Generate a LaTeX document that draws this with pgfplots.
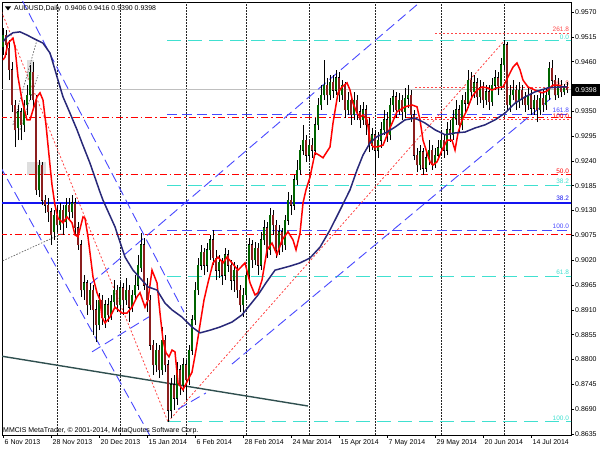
\documentclass[border=0pt]{standalone}
\usepackage{pgfplots}
\pgfplotsset{compat=1.18}
\usepackage{pgfplotstable}
\usepackage{fontspec}
\setmainfont{Liberation Sans}
\definecolor{fibred}{RGB}{255,0,0}
\definecolor{dotred}{RGB}{255,70,70}
\definecolor{fibblue}{RGB}{72,72,255}
\definecolor{solidblue}{RGB}{20,20,240}
\definecolor{fibcyan}{RGB}{64,224,208}
\definecolor{navyma}{RGB}{40,40,120}
\definecolor{slate}{RGB}{47,79,79}
\definecolor{bullc}{RGB}{0,100,0}
\definecolor{bearc}{RGB}{140,30,30}

\pgfplotstableread{
i O H L C
0 0.9492 0.9535 0.9475 0.9519
1 0.9519 0.9530 0.9475 0.9497
2 0.9490 0.9508 0.9419 0.9442
3 0.9442 0.9459 0.9349 0.9364
4 0.9364 0.9375 0.9271 0.9309
5 0.9313 0.9364 0.9286 0.9349
6 0.9349 0.9357 0.9286 0.9320
7 0.9320 0.9375 0.9304 0.9364
8 0.9364 0.9408 0.9342 0.9386
9 0.9386 0.9453 0.9375 0.9437
10 0.9437 0.9459 0.9357 0.9375
11 0.9375 0.9386 0.9165 0.9176
12 0.9176 0.9242 0.9160 0.9231
13 0.9231 0.9238 0.9142 0.9153
14 0.9153 0.9165 0.9125 0.9142
15 0.9142 0.9158 0.9105 0.9127
16 0.9127 0.9136 0.9054 0.9076
17 0.9083 0.9131 0.9065 0.9120
18 0.9120 0.9142 0.9083 0.9098
19 0.9098 0.9147 0.9087 0.9131
20 0.9131 0.9142 0.9076 0.9105
21 0.9105 0.9158 0.9092 0.9142
22 0.9142 0.9158 0.9109 0.9127
23 0.9127 0.9165 0.9113 0.9147
24 0.9147 0.9158 0.9076 0.9092
25 0.9092 0.9105 0.9043 0.9054
26 0.9054 0.9065 0.8939 0.8954
27 0.8954 0.8987 0.8932 0.8970
28 0.8970 0.8976 0.8899 0.8921
29 0.8921 0.8970 0.8910 0.8954
30 0.8954 0.8965 0.8854 0.8910
31 0.8910 0.8932 0.8839 0.8877
32 0.8877 0.8948 0.8865 0.8932
33 0.8932 0.8943 0.8877 0.8892
34 0.8892 0.8932 0.8870 0.8921
35 0.8921 0.8937 0.8883 0.8899
36 0.8899 0.8943 0.8888 0.8928
37 0.8928 0.8976 0.8914 0.8954
38 0.8954 0.8965 0.8905 0.8921
39 0.8921 0.8972 0.8910 0.8959
40 0.8959 0.8970 0.8899 0.8932
41 0.8932 0.8981 0.8921 0.8954
42 0.8954 0.8965 0.8883 0.8916
43 0.8916 0.8954 0.8905 0.8943
44 0.8943 0.8987 0.8932 0.8965
45 0.8965 0.9032 0.8954 0.9009
46 0.9003 0.9080 0.8994 0.9054
47 0.9054 0.9070 0.8954 0.8965
48 0.8965 0.8981 0.8905 0.8932
49 0.8932 0.8943 0.8821 0.8832
50 0.8832 0.8843 0.8766 0.8788
51 0.8788 0.8837 0.8772 0.8821
52 0.8821 0.8832 0.8759 0.8777
53 0.8777 0.8872 0.8766 0.8843
54 0.8843 0.8854 0.8772 0.8788
55 0.8788 0.8799 0.8662 0.8688
56 0.8688 0.8759 0.8670 0.8744
57 0.8744 0.8766 0.8688 0.8714
58 0.8714 0.8795 0.8699 0.8777
59 0.8777 0.8788 0.8721 0.8744
60 0.8744 0.8803 0.8728 0.8788
61 0.8788 0.8799 0.8710 0.8755
62 0.8755 0.8832 0.8744 0.8821
63 0.8821 0.8899 0.8810 0.8888
64 0.8888 0.8972 0.8877 0.8954
65 0.8954 0.9025 0.8943 0.9009
66 0.9009 0.9054 0.8998 0.9038
67 0.9038 0.9047 0.8987 0.9009
68 0.9009 0.9058 0.8994 0.9043
69 0.9043 0.9076 0.9021 0.9065
70 0.9065 0.9087 0.9009 0.9025
71 0.9025 0.9043 0.8976 0.8998
72 0.8998 0.9032 0.8981 0.9016
73 0.9016 0.9025 0.8965 0.8987
74 0.8987 0.9047 0.8976 0.9032
75 0.9032 0.9043 0.8994 0.9009
76 0.9009 0.9021 0.8954 0.8976
77 0.8976 0.9016 0.8950 0.8998
78 0.8998 0.9009 0.8937 0.8954
79 0.8954 0.8965 0.8905 0.8921
80 0.8921 0.8959 0.8894 0.8943
81 0.8943 0.9003 0.8932 0.8987
82 0.8987 0.9070 0.8976 0.9054
83 0.9054 0.9065 0.9003 0.9021
84 0.9021 0.9060 0.9009 0.9047
85 0.9047 0.9058 0.8987 0.9009
86 0.9009 0.9083 0.8998 0.9065
87 0.9065 0.9109 0.9054 0.9092
88 0.9092 0.9105 0.9025 0.9043
89 0.9043 0.9136 0.9032 0.9120
90 0.9120 0.9131 0.9076 0.9098
91 0.9098 0.9109 0.9025 0.9043
92 0.9043 0.9098 0.9032 0.9083
93 0.9083 0.9092 0.9038 0.9054
94 0.9054 0.9120 0.9043 0.9109
95 0.9109 0.9171 0.9098 0.9153
96 0.9153 0.9165 0.9120 0.9142
97 0.9142 0.9209 0.9131 0.9198
98 0.9198 0.9242 0.9187 0.9220
99 0.9220 0.9275 0.9209 0.9264
100 0.9264 0.9320 0.9253 0.9286
101 0.9286 0.9298 0.9238 0.9253
102 0.9253 0.9286 0.9242 0.9275
103 0.9275 0.9291 0.9247 0.9264
104 0.9264 0.9335 0.9253 0.9320
105 0.9320 0.9379 0.9309 0.9364
106 0.9364 0.9408 0.9353 0.9386
107 0.9386 0.9464 0.9375 0.9408
108 0.9408 0.9424 0.9364 0.9386
109 0.9386 0.9430 0.9375 0.9415
110 0.9415 0.9430 0.9379 0.9397
111 0.9397 0.9442 0.9386 0.9424
112 0.9424 0.9437 0.9371 0.9386
113 0.9386 0.9419 0.9375 0.9408
114 0.9408 0.9415 0.9335 0.9353
115 0.9353 0.9393 0.9342 0.9375
116 0.9375 0.9386 0.9320 0.9342
117 0.9342 0.9393 0.9331 0.9375
118 0.9375 0.9386 0.9331 0.9349
119 0.9349 0.9364 0.9313 0.9331
120 0.9331 0.9371 0.9320 0.9353
121 0.9353 0.9364 0.9298 0.9320
122 0.9320 0.9335 0.9260 0.9275
123 0.9275 0.9313 0.9264 0.9298
124 0.9298 0.9309 0.9204 0.9264
125 0.9264 0.9304 0.9247 0.9286
126 0.9286 0.9326 0.9269 0.9309
127 0.9309 0.9353 0.9298 0.9331
128 0.9331 0.9349 0.9282 0.9298
129 0.9298 0.9379 0.9286 0.9364
130 0.9364 0.9397 0.9349 0.9382
131 0.9382 0.9393 0.9335 0.9353
132 0.9353 0.9391 0.9342 0.9375
133 0.9375 0.9386 0.9331 0.9349
134 0.9349 0.9402 0.9335 0.9379
135 0.9379 0.9408 0.9357 0.9386
136 0.9386 0.9397 0.9326 0.9342
137 0.9342 0.9353 0.9242 0.9253
138 0.9253 0.9269 0.9216 0.9231
139 0.9231 0.9275 0.9220 0.9260
140 0.9260 0.9269 0.9209 0.9224
141 0.9224 0.9264 0.9216 0.9247
142 0.9247 0.9286 0.9231 0.9264
143 0.9264 0.9275 0.9220 0.9231
144 0.9231 0.9269 0.9224 0.9253
145 0.9253 0.9286 0.9242 0.9269
146 0.9269 0.9309 0.9253 0.9286
147 0.9286 0.9298 0.9247 0.9264
148 0.9264 0.9326 0.9253 0.9309
149 0.9309 0.9331 0.9282 0.9298
150 0.9298 0.9353 0.9286 0.9335
151 0.9335 0.9375 0.9320 0.9353
152 0.9353 0.9364 0.9304 0.9320
153 0.9320 0.9386 0.9309 0.9375
154 0.9375 0.9393 0.9349 0.9368
155 0.9368 0.9442 0.9357 0.9419
156 0.9419 0.9437 0.9375 0.9393
157 0.9393 0.9430 0.9379 0.9413
158 0.9413 0.9424 0.9364 0.9382
159 0.9382 0.9419 0.9368 0.9402
160 0.9402 0.9415 0.9357 0.9375
161 0.9375 0.9408 0.9364 0.9393
162 0.9393 0.9408 0.9353 0.9371
163 0.9371 0.9424 0.9362 0.9408
164 0.9408 0.9442 0.9397 0.9424
165 0.9424 0.9437 0.9386 0.9406
166 0.9406 0.9468 0.9397 0.9453
167 0.9453 0.9508 0.9442 0.9497
168 0.9497 0.9504 0.9353 0.9364
169 0.9364 0.9408 0.9349 0.9386
170 0.9386 0.9419 0.9375 0.9397
171 0.9397 0.9408 0.9353 0.9371
172 0.9371 0.9415 0.9357 0.9397
173 0.9397 0.9408 0.9364 0.9379
174 0.9379 0.9393 0.9349 0.9364
175 0.9364 0.9402 0.9353 0.9386
176 0.9386 0.9397 0.9342 0.9357
177 0.9357 0.9386 0.9342 0.9375
178 0.9375 0.9386 0.9326 0.9353
179 0.9353 0.9393 0.9342 0.9379
180 0.9379 0.9397 0.9349 0.9364
181 0.9364 0.9402 0.9353 0.9386
182 0.9386 0.9459 0.9375 0.9446
183 0.9446 0.9464 0.9402 0.9419
184 0.9419 0.9430 0.9375 0.9386
185 0.9386 0.9424 0.9379 0.9408
186 0.9408 0.9419 0.9382 0.9393
187 0.9393 0.9410 0.9386 0.9402
188 0.9406 0.9416 0.9390 0.9398
}\candles

\newcommand{\tinyf}{\fontsize{7}{8}\selectfont}
\newcommand{\fibf}{\fontsize{6.5}{7}\selectfont}
\tikzset{dashdotred/.style={color=fibred, line width=1bp, dash pattern=on 7bp off 3bp on 1.5bp off 3bp}}

\begin{document}
\begin{tikzpicture}[x=1bp,y=1bp]
\path[use as bounding box] (0,0) rectangle (600,450);
\begin{axis}[
  at={(2bp,15bp)}, anchor=south west,
  scale only axis, width=569bp, height=433bp,
  xmin=-0.3333, xmax=189.3333, ymin=0.86328, ymax=0.95922,
  axis line style={line width=0.8bp, black},
  tick align=outside, xtick pos=bottom, ytick pos=right,
  major tick length=3bp,
  tick style={black, line width=0.6bp},
  xtick={0,16,32,48,64,80,96,112,128,144,160,176},
  xticklabels={6 Nov 2013, 28 Nov 2013, 20 Dec 2013, 15 Jan 2014, 6 Feb 2014, 28 Feb 2014, 24 Mar 2014, 15 Apr 2014, 7 May 2014, 29 May 2014, 20 Jun 2014, 14 Jul 2014},
  xticklabel style={anchor=north west, inner sep=0pt, font=\tinyf, xshift=1.5bp, yshift=-1bp},
  ytick={0.8635,0.8690,0.8745,0.8800,0.8855,0.8910,0.8965,0.9020,0.9075,0.9130,0.9185,0.9240,0.9295,0.9350,0.9405,0.9460,0.9515,0.9570},
  yticklabels={0.8635,0.8690,0.8745,0.8800,0.8855,0.8910,0.8965,0.9020,0.9075,0.9130,0.9185,0.9240,0.9295,0.9350,{},0.9460,0.9515,0.9570},
  yticklabel pos=right,
  yticklabel style={anchor=west, inner sep=0pt, font=\tinyf, xshift=1bp},
  extra x ticks={18,39,61,81,102,124,146,167},
  extra x tick labels={},
  extra x tick style={grid=major, major tick length=0pt, grid style={black!85, line width=0.5bp, dash pattern=on 1.5bp off 1.5bp}},
]
% gray boxes
\addplot[fill=black!13, draw=none, forget plot] coordinates {(8,0.9464) (10.33,0.9464) (10.33,0.9419) (8,0.9419)} -- cycle;
\addplot[fill=black!13, draw=none, forget plot] coordinates {(8,0.9238) (14.33,0.9238) (14.33,0.9209) (8,0.9209)} -- cycle;
% bid line
\addplot[color=black!25, line width=0.8bp] coordinates {(-1,0.9398) (190,0.9398)};
% red dash-dot fib
\addplot[dashdotred] coordinates {(-1,0.9337) (190,0.9337)};
\addplot[dashdotred] coordinates {(-1,0.9209) (190,0.9209)};
\addplot[dashdotred] coordinates {(-1,0.9078) (190,0.9078)};
% red dotted fib
\addplot[color=dotred, line width=0.8bp, dash pattern=on 2bp off 2bp] coordinates {(144,0.9523) (190,0.9523)};
\addplot[color=dotred, line width=0.8bp, dash pattern=on 2bp off 2bp] coordinates {(137.33,0.9404) (190,0.9404)};
\addplot[color=dotred, line width=0.8bp, dash pattern=on 2bp off 2bp] coordinates {(137.33,0.9331) (190,0.9331)};
% cyan fib
\addplot[color=fibcyan, line width=0.9bp, dash pattern=on 14bp off 7bp] coordinates {(54.67,0.9506) (190,0.9506)};
\addplot[color=fibcyan, line width=0.9bp, dash pattern=on 14bp off 7bp] coordinates {(54.67,0.9185) (190,0.9185)};
\addplot[color=fibcyan, line width=0.9bp, dash pattern=on 14bp off 7bp] coordinates {(54.67,0.8985) (190,0.8985)};
\addplot[color=fibcyan, line width=0.9bp, dash pattern=on 14bp off 7bp] coordinates {(54.67,0.8662) (190,0.8662)};
% blue fib
\addplot[color=fibblue, line width=0.9bp, dash pattern=on 10bp off 5bp] coordinates {(54.67,0.9342) (190,0.9342)};
\addplot[color=fibblue, line width=0.9bp, dash pattern=on 10bp off 5bp] coordinates {(54.67,0.9085) (190,0.9085)};
\addplot[color=solidblue, line width=2bp] coordinates {(-1,0.9147) (190,0.9147)};
% diagonal objects
\addplot[color=dotred, line width=0.8bp, dash pattern=on 2bp off 2bp] coordinates {(-1,0.9579) (55,0.8662)};
\addplot[color=dotred, line width=0.8bp, dash pattern=on 2bp off 2bp] coordinates {(55,0.8662) (167.33,0.9508)};
\addplot[color=fibblue, line width=0.9bp, dash pattern=on 10bp off 5bp] coordinates {(6.33,0.95966) (60.33,0.8905)};
\addplot[color=fibblue, line width=0.9bp, dash pattern=on 10bp off 5bp] coordinates {(-1,0.9229) (49,0.8631)};
\addplot[color=fibblue, line width=0.9bp, dash pattern=on 10bp off 5bp] coordinates {(29,0.8967) (138.33,0.9588)};
\addplot[color=fibblue, line width=0.9bp, dash pattern=on 10bp off 5bp] coordinates {(76.33,0.8790) (184.33,0.9388)};
\addplot[color=fibblue, line width=0.9bp, dash pattern=on 10bp off 5bp] coordinates {(29.67,0.8817) (49,0.8896)};
\addplot[color=fibblue, line width=0.9bp, dash pattern=on 10bp off 5bp] coordinates {(58.33,0.8690) (67.67,0.8726)};
\addplot[color=slate, line width=1.4bp] coordinates {(-1,0.8808) (101.67,0.8697)};
\addplot[color=black!60, line width=0.7bp, dash pattern=on 1.5bp off 1.5bp] coordinates {(3.33,0.9320) (11.33,0.9508)};
\addplot[color=black!60, line width=0.7bp, dash pattern=on 1.5bp off 1.5bp] coordinates {(5.67,0.9309) (11.67,0.9430)};
\addplot[color=black!60, line width=0.7bp, dash pattern=on 1.5bp off 1.5bp] coordinates {(-1,0.9016) (20,0.9080)};
% fib labels
\node[anchor=base east, inner sep=0pt, font=\fibf, text=dotred] at (axis cs:188.7,0.9527) {261.8};
\node[anchor=base east, inner sep=0pt, font=\fibf, text=fibcyan] at (axis cs:188.7,0.9510) {0.0};
\node[anchor=base east, inner sep=0pt, font=\fibf, text=dotred] at (axis cs:188.7,0.9408) {161.8};
\node[anchor=base east, inner sep=0pt, font=\fibf, text=fibblue] at (axis cs:188.7,0.9347) {161.8};
\node[anchor=base east, inner sep=0pt, font=\fibf, text=fibred] at (axis cs:188.7,0.9335) {100.0};
\node[anchor=base east, inner sep=0pt, font=\fibf, text=fibred] at (axis cs:188.7,0.9213) {50.0};
\node[anchor=base east, inner sep=0pt, font=\fibf, text=fibcyan] at (axis cs:188.7,0.9189) {38.2};
\node[anchor=base east, inner sep=0pt, font=\fibf, text=solidblue] at (axis cs:188.7,0.9153) {38.2};
\node[anchor=base east, inner sep=0pt, font=\fibf, text=fibblue] at (axis cs:188.7,0.9090) {100.0};
\node[anchor=base east, inner sep=0pt, font=\fibf, text=fibcyan] at (axis cs:188.7,0.8989) {61.8};
\node[anchor=base east, inner sep=0pt, font=\fibf, text=fibcyan] at (axis cs:188.7,0.8666) {100.0};
% candles: wicks
\addplot[forget plot, draw=none, mark=none,
  error bars/.cd, y dir=plus, y explicit, error mark=none,
  error bar style={draw=black, solid, line width=0.75bp}]
  table[x=i, y=L, y error expr=\thisrow{H}-\thisrow{L}] {\candles};
% bull bodies
\addplot[forget plot, draw=none, mark=none,
  restrict expr to domain={\thisrow{C}-\thisrow{O}}{0:1},
  error bars/.cd, y dir=plus, y explicit, error mark=none,
  error bar style={draw=black, solid, line width=2.6bp}]
  table[x=i, y expr={min(\thisrow{O},\thisrow{C})-0.0001}, y error expr={abs(\thisrow{C}-\thisrow{O})+0.0002}] {\candles};
\addplot[forget plot, draw=none, mark=none,
  restrict expr to domain={\thisrow{C}-\thisrow{O}}{0:1},
  error bars/.cd, y dir=plus, y explicit, error mark=none,
  error bar style={draw=bullc, solid, line width=1.2bp}]
  table[x=i, y expr={min(\thisrow{O},\thisrow{C})}, y error expr={abs(\thisrow{C}-\thisrow{O})}] {\candles};
% bear bodies
\addplot[forget plot, draw=none, mark=none,
  restrict expr to domain={\thisrow{C}-\thisrow{O}}{-1:0},
  error bars/.cd, y dir=plus, y explicit, error mark=none,
  error bar style={draw=black, solid, line width=2.6bp}]
  table[x=i, y expr={min(\thisrow{O},\thisrow{C})-0.0001}, y error expr={abs(\thisrow{C}-\thisrow{O})+0.0002}] {\candles};
\addplot[forget plot, draw=none, mark=none,
  restrict expr to domain={\thisrow{C}-\thisrow{O}}{-1:0},
  error bars/.cd, y dir=plus, y explicit, error mark=none,
  error bar style={draw=bearc, solid, line width=1.2bp}]
  table[x=i, y expr={min(\thisrow{O},\thisrow{C})}, y error expr={abs(\thisrow{C}-\thisrow{O})}] {\candles};
% moving averages
\addplot[color=fibred, line width=1.5bp] coordinates {(0,0.9464) (0.67,0.9470) (1.67,0.9501) (3.33,0.9512) (4,0.9492) (5,0.9426) (6.33,0.9375) (8,0.9331) (9,0.9331) (10,0.9353) (11.33,0.9382) (12.33,0.9391) (13.33,0.9375) (14.33,0.9320) (15.33,0.9253) (16.33,0.9187) (17.33,0.9142) (18.33,0.9113) (20,0.9103) (21.33,0.9116) (23,0.9103) (24,0.9076) (25,0.9072) (26.67,0.9116) (27.33,0.9113) (28.33,0.9072) (30,0.8983) (31.33,0.8948) (32.33,0.8932) (33,0.8894) (34,0.8881) (35.67,0.8894) (37.33,0.8916) (39.67,0.8903) (41.33,0.8903) (43,0.8916) (44.67,0.8939) (45.67,0.8948) (47.33,0.8916) (48.33,0.8932) (49.67,0.8998) (51.33,0.8970) (52.33,0.8903) (53.33,0.8843) (54.33,0.8815) (55.33,0.8806) (56.33,0.8821) (57.33,0.8817) (58.33,0.8748) (60,0.8733) (61.67,0.8755) (63,0.8772) (64.33,0.8821) (65.67,0.8877) (67,0.8932) (68.33,0.8970) (70,0.9014) (71.67,0.9027) (73.33,0.9014) (74.67,0.9027) (76.33,0.9014) (78.33,0.8998) (80.67,0.9014) (82.33,0.8970) (84,0.8943) (85,0.8948) (86.33,0.8976) (88,0.9043) (89.67,0.9058) (91.33,0.9032) (93,0.9065) (95,0.9083) (96.67,0.9065) (97.67,0.9043) (99,0.9080) (100,0.9147) (101,0.9176) (102.33,0.9204) (104,0.9258) (105.33,0.9253) (106.67,0.9247) (109,0.9271) (110,0.9324) (111.67,0.9391) (113,0.9404) (114.67,0.9413) (115.67,0.9397) (116.67,0.9368) (118,0.9346) (119,0.9337) (120,0.9342) (121.33,0.9331) (122.33,0.9286) (123.33,0.9271) (124.67,0.9271) (126.67,0.9275) (129,0.9313) (131.33,0.9349) (134,0.9360) (136.33,0.9364) (138,0.9360) (139,0.9331) (140,0.9286) (141.33,0.9258) (142.33,0.9238) (143.33,0.9231) (144.67,0.9238) (146.33,0.9264) (148,0.9286) (149.67,0.9286) (150.67,0.9264) (151.67,0.9302) (153,0.9331) (154.67,0.9353) (156.33,0.9382) (158,0.9397) (159.67,0.9404) (161.33,0.9402) (163,0.9397) (164.67,0.9402) (166.67,0.9404) (168.33,0.9426) (170,0.9448) (171.33,0.9457) (172.33,0.9442) (173.33,0.9419) (175,0.9404) (177.33,0.9397) (179.67,0.9391) (181.33,0.9395) (182.33,0.9402) (183.33,0.9408) (185,0.9408) (186.67,0.9404) (188,0.9404)};
\addplot[color=navyma, line width=1.5bp] coordinates {(0,0.9504) (1.33,0.9515) (3.33,0.9524) (5.67,0.9526) (8,0.9519) (10,0.9512) (13.33,0.9501) (15.67,0.9479) (17.33,0.9442) (18.33,0.9419) (20,0.9382) (22.33,0.9346) (24.67,0.9309) (26.33,0.9280) (29,0.9235) (32.33,0.9171) (33.33,0.9153) (37.33,0.9094) (40.67,0.9027) (43.33,0.8998) (45.67,0.8981) (48.33,0.8961) (51.33,0.8954) (54,0.8925) (56.33,0.8910) (59.67,0.8894) (63,0.8872) (65.67,0.8859) (69,0.8865) (72.33,0.8872) (76.33,0.8883) (79.67,0.8899) (82.33,0.8921) (85,0.8943) (87.67,0.8970) (90.67,0.8998) (95.67,0.9007) (99,0.9014) (102.33,0.9025) (105.67,0.9049) (109,0.9087) (112.33,0.9131) (115.67,0.9176) (118,0.9220) (120,0.9253) (122.33,0.9280) (124.67,0.9294) (128,0.9304) (130.67,0.9315) (134,0.9331) (137.33,0.9335) (140.67,0.9324) (144,0.9309) (147.33,0.9298) (150.67,0.9302) (154,0.9304) (157.33,0.9313) (160.67,0.9320) (164,0.9331) (167.33,0.9346) (170.67,0.9368) (174,0.9382) (177.33,0.9393) (181.67,0.9402) (186.33,0.9404) (188,0.9404)};
\end{axis}
% title
\fill[black] (5,443.5) -- (11,443.5) -- (8,439.5) -- cycle;
\node[anchor=base west, inner sep=0pt, font=\tinyf] at (14,439.5) {AUDUSD,Daily\ \ 0.9406 0.9416 0.9390 0.9398};
\node[anchor=base west, inner sep=0pt, font=\tinyf] at (3,17.5) {MMCIS MetaTrader, \textcopyright{} 2001-2014, MetaQuotes Software Corp.};
% bid box
\fill[black] (571,354) rectangle (600,366);
\node[text=white, inner sep=0pt, font=\tinyf] at (586,360) {0.9398};
\end{tikzpicture}
\end{document}
